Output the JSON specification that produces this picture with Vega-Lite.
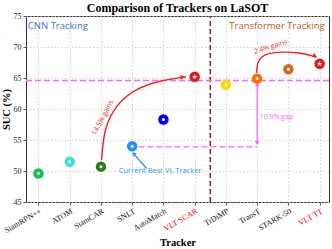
{
  "$schema": "https://vega.github.io/schema/vega-lite/v6.json",
  "autosize": "none",
  "width": 303,
  "height": 186,
  "padding": {"left": 26, "top": 16, "right": 3, "bottom": 47},
  "background": "white",
  "title": {"text": "Comparison of Trackers on LaSOT", "font": "Liberation Serif", "fontSize": 12, "fontWeight": "bold", "color": "black", "offset": -3, "anchor": "middle"},
  "config": {
    "view": {"stroke": "#333333", "strokeWidth": 1},
    "axis": {"grid": true, "gridColor": "#c8c8c8", "gridDash": [1.5, 2], "gridWidth": 0.8, "domain": false, "tickColor": "#555555", "tickSize": 3, "labelOverlap": false, "labelFont": "Liberation Serif", "labelFontSize": 8, "labelColor": "#222222", "titleFont": "Liberation Serif", "titleFontWeight": "bold", "titleFontSize": 10.5, "titleColor": "black"}
  },
  "datasets": {
    "trackers": [
      {"x": 1, "name": "SiamRPN++", "y": 49.6, "vlt": false},
      {"x": 2, "name": "ATOM", "y": 51.5, "vlt": false},
      {"x": 3, "name": "SiamCAR", "y": 50.7, "vlt": false},
      {"x": 4, "name": "SNLT", "y": 54.0, "vlt": false},
      {"x": 5, "name": "AutoMatch", "y": 58.3, "vlt": false},
      {"x": 6, "name": "VLT_SCAR", "y": 65.2, "vlt": true},
      {"x": 7, "name": "TrDiMP", "y": 63.9, "vlt": false},
      {"x": 8, "name": "TransT", "y": 64.9, "vlt": false},
      {"x": 9, "name": "STARK-50", "y": 66.4, "vlt": false},
      {"x": 10, "name": "VLT_TT", "y": 67.3, "vlt": true}
    ],
    "curve1": [
      {"x": 3.02, "y": 51.8},
      {"x": 3.1, "y": 57.0},
      {"x": 3.5, "y": 60.8},
      {"x": 4.1, "y": 63.3},
      {"x": 4.9, "y": 64.6},
      {"x": 5.72, "y": 65.2}
    ],
    "curve2": [
      {"x": 7.98, "y": 65.8},
      {"x": 8.0, "y": 67.6},
      {"x": 8.2, "y": 68.8},
      {"x": 8.6, "y": 69.2},
      {"x": 9.3, "y": 69.2},
      {"x": 9.9, "y": 68.4}
    ]
  },
  "encoding": {
    "x": {"field": "x", "type": "quantitative", "scale": {"domain": [0.6, 10.3], "nice": false, "zero": false},
      "axis": {"values": [1, 2, 3, 4, 5, 6, 7, 8, 9, 10], "title": "Tracker", "titlePadding": 3, "labelOverlap": false, "labelBound": false,
        "labelExpr": "['', 'SiamRPN++', 'ATOM', 'SiamCAR', 'SNLT', 'AutoMatch', 'VLT SCAR', 'TrDiMP', 'TransT', 'STARK-50', 'VLT TT'][datum.value]",
        "labelAngle": -30, "labelAlign": "right", "labelBaseline": "top", "labelPadding": 2,
        "labelColor": {"condition": {"test": "datum.value == 6 || datum.value == 10", "value": "#ff0000"}, "value": "#111111"}}},
    "y": {"field": "y", "type": "quantitative", "scale": {"domain": [45, 75], "nice": false, "zero": false},
      "axis": {"values": [45, 50, 55, 60, 65, 70, 75], "title": "SUC (%)", "titlePadding": 2, "labelPadding": 2, "labelOverlap": false, "labelBound": false}}
  },
  "layer": [
    {
      "data": {"values": [{"x": 6.5, "y": 45, "y2": 75}]},
      "mark": {"type": "rule", "color": "#a3142e", "strokeDash": [5, 3], "strokeWidth": 1.5},
      "encoding": {"y2": {"field": "y2"}}
    },
    {
      "data": {"values": [{"x": 0.6, "x2": 10.3, "y": 64.6}]},
      "mark": {"type": "rule", "color": "#ff66ff", "strokeDash": [6, 3], "strokeWidth": 1.3},
      "encoding": {"x2": {"field": "x2"}}
    },
    {
      "data": {"values": [{"x": 4.2, "x2": 8.0, "y": 53.9}]},
      "mark": {"type": "rule", "color": "#ff66ff", "strokeDash": [6, 3], "strokeWidth": 1.3},
      "encoding": {"x2": {"field": "x2"}}
    },
    {
      "data": {"values": [{"x": 8.0, "y": 54.4, "y2": 64.1}]},
      "mark": {"type": "rule", "color": "#ff66ff", "strokeWidth": 1.3},
      "encoding": {"y2": {"field": "y2"}}
    },
    {
      "data": {"values": [{"x": 8.0, "y": 64.0, "s": "triangle-up"}, {"x": 8.0, "y": 54.5, "s": "triangle-down"}]},
      "mark": {"type": "point", "filled": true, "color": "#ff66ff", "size": 22, "opacity": 1},
      "encoding": {"shape": {"field": "s", "type": "nominal", "scale": null, "legend": null}}
    },
    {
      "data": {"name": "curve1"},
      "mark": {"type": "line", "color": "#ff1a1a", "strokeWidth": 1.4, "interpolate": "basis"},
      "encoding": {}
    },
    {
      "data": {"name": "curve2"},
      "mark": {"type": "line", "color": "#ff1a1a", "strokeWidth": 1.4, "interpolate": "basis"},
      "encoding": {}
    },
    {
      "data": {"values": [{"x": 5.62, "y": 65.15, "a": 82}, {"x": 9.85, "y": 68.5, "a": 125}]},
      "mark": {"type": "point", "shape": "triangle-up", "filled": true, "color": "#ff1a1a", "size": 24, "opacity": 1},
      "encoding": {"angle": {"field": "a", "type": "quantitative", "scale": null}}
    },
    {
      "data": {"values": [{"x": 4.46, "y": 50.4, "x2": 4.08, "y2": 52.6}]},
      "mark": {"type": "rule", "color": "#2f8fff", "strokeWidth": 1.3},
      "encoding": {"x2": {"field": "x2"}, "y2": {"field": "y2"}}
    },
    {
      "data": {"values": [{"x": 4.05, "y": 52.8, "a": -42}]},
      "mark": {"type": "point", "shape": "triangle-up", "filled": true, "color": "#2f8fff", "size": 22, "opacity": 1},
      "encoding": {"angle": {"field": "a", "type": "quantitative", "scale": null}}
    },
    {
      "data": {"name": "trackers"},
      "mark": {"type": "point", "shape": "circle", "filled": true, "size": 110, "opacity": 1},
      "encoding": {
        "color": {"field": "name", "type": "nominal", "legend": null,
          "scale": {"domain": ["SiamRPN++", "ATOM", "SiamCAR", "SNLT", "AutoMatch", "VLT_SCAR", "TrDiMP", "TransT", "STARK-50", "VLT_TT"],
            "range": ["#14c257", "#40e0d0", "#2e7d1c", "#1e90ff", "#0000ff", "#e01a1a", "#ffd700", "#ff6a00", "#d2691e", "#e01a1a"]}}
      }
    },
    {
      "data": {"name": "trackers"},
      "transform": [{"filter": "!datum.vlt"}],
      "mark": {"type": "point", "shape": "circle", "filled": true, "size": 9, "color": "white", "opacity": 1},
      "encoding": {}
    },
    {
      "data": {"name": "trackers"},
      "transform": [{"filter": "datum.vlt"}],
      "mark": {"type": "text", "text": "★", "color": "white", "fontSize": 7, "baseline": "middle", "align": "center", "font": "DejaVu Sans"},
      "encoding": {}
    },
    {
      "data": {"values": [{"x": 0.66, "y": 73.4, "t": "CNN Tracking"}]},
      "mark": {"type": "text", "align": "left", "baseline": "middle", "font": "Open Sans", "fontSize": 9.5, "color": "#3f6fd0"},
      "encoding": {"text": {"field": "t"}}
    },
    {
      "data": {"values": [{"x": 10.16, "y": 73.4, "t": "Transformer Tracking"}]},
      "mark": {"type": "text", "align": "right", "baseline": "middle", "font": "Open Sans", "fontSize": 9.5, "color": "#c55a11"},
      "encoding": {"text": {"field": "t"}}
    },
    {
      "data": {"values": [{"x": 3.57, "y": 50.0, "t": "Current Best VL Tracker"}]},
      "mark": {"type": "text", "align": "left", "baseline": "middle", "font": "Open Sans", "fontSize": 7.5, "color": "#3399ff"},
      "encoding": {"text": {"field": "t"}}
    },
    {
      "data": {"values": [{"x": 8.08, "y": 58.7, "t": "10.9% gap"}]},
      "mark": {"type": "text", "align": "left", "baseline": "middle", "font": "Open Sans", "fontSize": 7, "color": "#ff66ff"},
      "encoding": {"text": {"field": "t"}}
    },
    {
      "data": {"values": [{"x": 3.06, "y": 58.6, "t": "14.5% gains"}]},
      "mark": {"type": "text", "align": "center", "baseline": "middle", "font": "Open Sans", "fontSize": 7, "color": "#ff1a1a", "angle": -62},
      "encoding": {"text": {"field": "t"}}
    },
    {
      "data": {"values": [{"x": 8.43, "y": 70.0, "t": "2.4% gains"}]},
      "mark": {"type": "text", "align": "center", "baseline": "middle", "font": "Open Sans", "fontSize": 7, "color": "#ff1a1a", "angle": -17},
      "encoding": {"text": {"field": "t"}}
    }
  ]
}
